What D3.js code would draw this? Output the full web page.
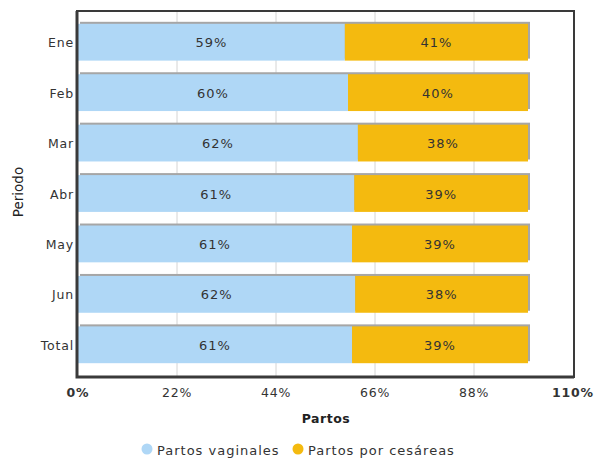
<!DOCTYPE html>
<html>
<head>
<meta charset="utf-8">
<script src="https://cdn.jsdelivr.net/npm/d3@7"></script>
<style>
  body { margin: 0; background: #fff; }
  text { font-family: "DejaVu Sans", Verdana, sans-serif; }
</style>
</head>
<body>
<svg id="chart" width="597" height="459"></svg>
<script>
const periods = ['Ene', 'Feb', 'Mar', 'Abr', 'May', 'Jun', 'Total'];
const vaginal = [59.3, 60.0, 62.2, 61.4, 60.9, 61.6, 60.9];
const cesarea = [40.7, 40.0, 37.8, 38.6, 39.1, 38.4, 39.1];
const xTicks = [0, 22, 44, 66, 88, 110];
const seriesNames = ['Partos vaginales', 'Partos por cesáreas'];
const seriesColors = ['#afd7f6', '#f4ba0f'];

const svg = d3.select('#chart');
const plot = { left: 77, top: 11, right: 574, bottom: 377 };

const x = d3.scaleLinear().domain([0, 110]).range([plot.left + 1, plot.right - 1]);
const y = d3.scaleBand().domain(periods).range([17, 370]).paddingInner(0.27).paddingOuter(0.135);

// gridlines
svg.append('g')
  .selectAll('line')
  .data(xTicks.slice(1, -1))
  .join('line')
  .attr('x1', d => x(d)).attr('x2', d => x(d))
  .attr('y1', plot.top).attr('y2', plot.bottom)
  .attr('stroke', '#d4d4d4').attr('stroke-width', 1);

const rows = periods.map((p, i) => ({ p, v: vaginal[i], c: cesarea[i] }));

// shadows
svg.append('g')
  .selectAll('rect')
  .data(rows)
  .join('rect')
  .attr('x', x(0) + 2)
  .attr('y', d => y(d.p) - 2)
  .attr('width', d => x(d.v + d.c) - x(0))
  .attr('height', y.bandwidth())
  .attr('fill', '#a6a6a6');

const segs = svg.append('g');
segs.selectAll('rect.vag')
  .data(rows)
  .join('rect')
  .attr('class', 'vag')
  .attr('x', x(0))
  .attr('y', d => y(d.p))
  .attr('width', d => x(d.v) - x(0))
  .attr('height', y.bandwidth())
  .attr('fill', seriesColors[0]);
segs.selectAll('rect.ces')
  .data(rows)
  .join('rect')
  .attr('class', 'ces')
  .attr('x', d => x(d.v))
  .attr('y', d => y(d.p))
  .attr('width', d => x(d.v + d.c) - x(d.v))
  .attr('height', y.bandwidth())
  .attr('fill', seriesColors[1]);

// value labels
const fmt = v => Math.round(v) + '%';
const labels = svg.append('g')
  .attr('font-size', 13).attr('letter-spacing', 1).attr('fill', '#333').attr('text-anchor', 'middle');
labels.selectAll('text.lv')
  .data(rows)
  .join('text')
  .attr('x', d => (x(0) + x(d.v)) / 2)
  .attr('y', d => y(d.p) + y.bandwidth() / 2 + 5)
  .text(d => fmt(d.v));
labels.selectAll('text.lc')
  .data(rows)
  .join('text')
  .attr('x', d => (x(d.v) + x(d.v + d.c)) / 2)
  .attr('y', d => y(d.p) + y.bandwidth() / 2 + 5)
  .text(d => fmt(d.c));

// frame
svg.append('rect')
  .attr('x', plot.left).attr('y', plot.top)
  .attr('width', plot.right - plot.left).attr('height', plot.bottom - plot.top)
  .attr('fill', 'none').attr('stroke', '#3a3a3a').attr('stroke-width', 2);
svg.append('path')
  .attr('d', `M${plot.left},${plot.top}V${plot.bottom}H${plot.right}`)
  .attr('fill', 'none').attr('stroke', '#3a3a3a').attr('stroke-width', 3);

// y axis labels
svg.append('g')
  .attr('font-size', 12.5).attr('letter-spacing', 0.8).attr('fill', '#333').attr('text-anchor', 'end')
  .selectAll('text')
  .data(periods)
  .join('text')
  .attr('x', plot.left - 3)
  .attr('y', d => y(d) + y.bandwidth() / 2 + 5)
  .text(d => d);

// x axis labels
svg.append('g')
  .attr('font-size', 12.5).attr('letter-spacing', 0.8).attr('fill', '#333').attr('text-anchor', 'middle')
  .selectAll('text')
  .data(xTicks)
  .join('text')
  .attr('x', d => x(d))
  .attr('y', 397)
  .attr('font-weight', (d, i) => (i === 0 || i === xTicks.length - 1) ? 'bold' : 'normal')
  .text(d => d + '%');

// axis titles
svg.append('text')
  .attr('x', 326).attr('y', 423)
  .attr('text-anchor', 'middle').attr('font-size', 12.5).attr('letter-spacing', 0.5)
  .attr('font-weight', 'bold').attr('fill', '#222')
  .text('Partos');
svg.append('text')
  .attr('transform', 'translate(23,192) rotate(-90)')
  .attr('text-anchor', 'middle').attr('font-size', 13.5).attr('fill', '#222')
  .text('Periodo');

// legend
const legend = svg.append('g').attr('font-size', 13).attr('letter-spacing', 1).attr('fill', '#333');
const legendX = [147, 298];
seriesNames.forEach((name, i) => {
  legend.append('circle')
    .attr('cx', legendX[i]).attr('cy', 449).attr('r', 5.5)
    .attr('fill', seriesColors[i]);
  legend.append('text')
    .attr('x', legendX[i] + 10).attr('y', 455)
    .text(name);
});
</script>
</body>
</html>
